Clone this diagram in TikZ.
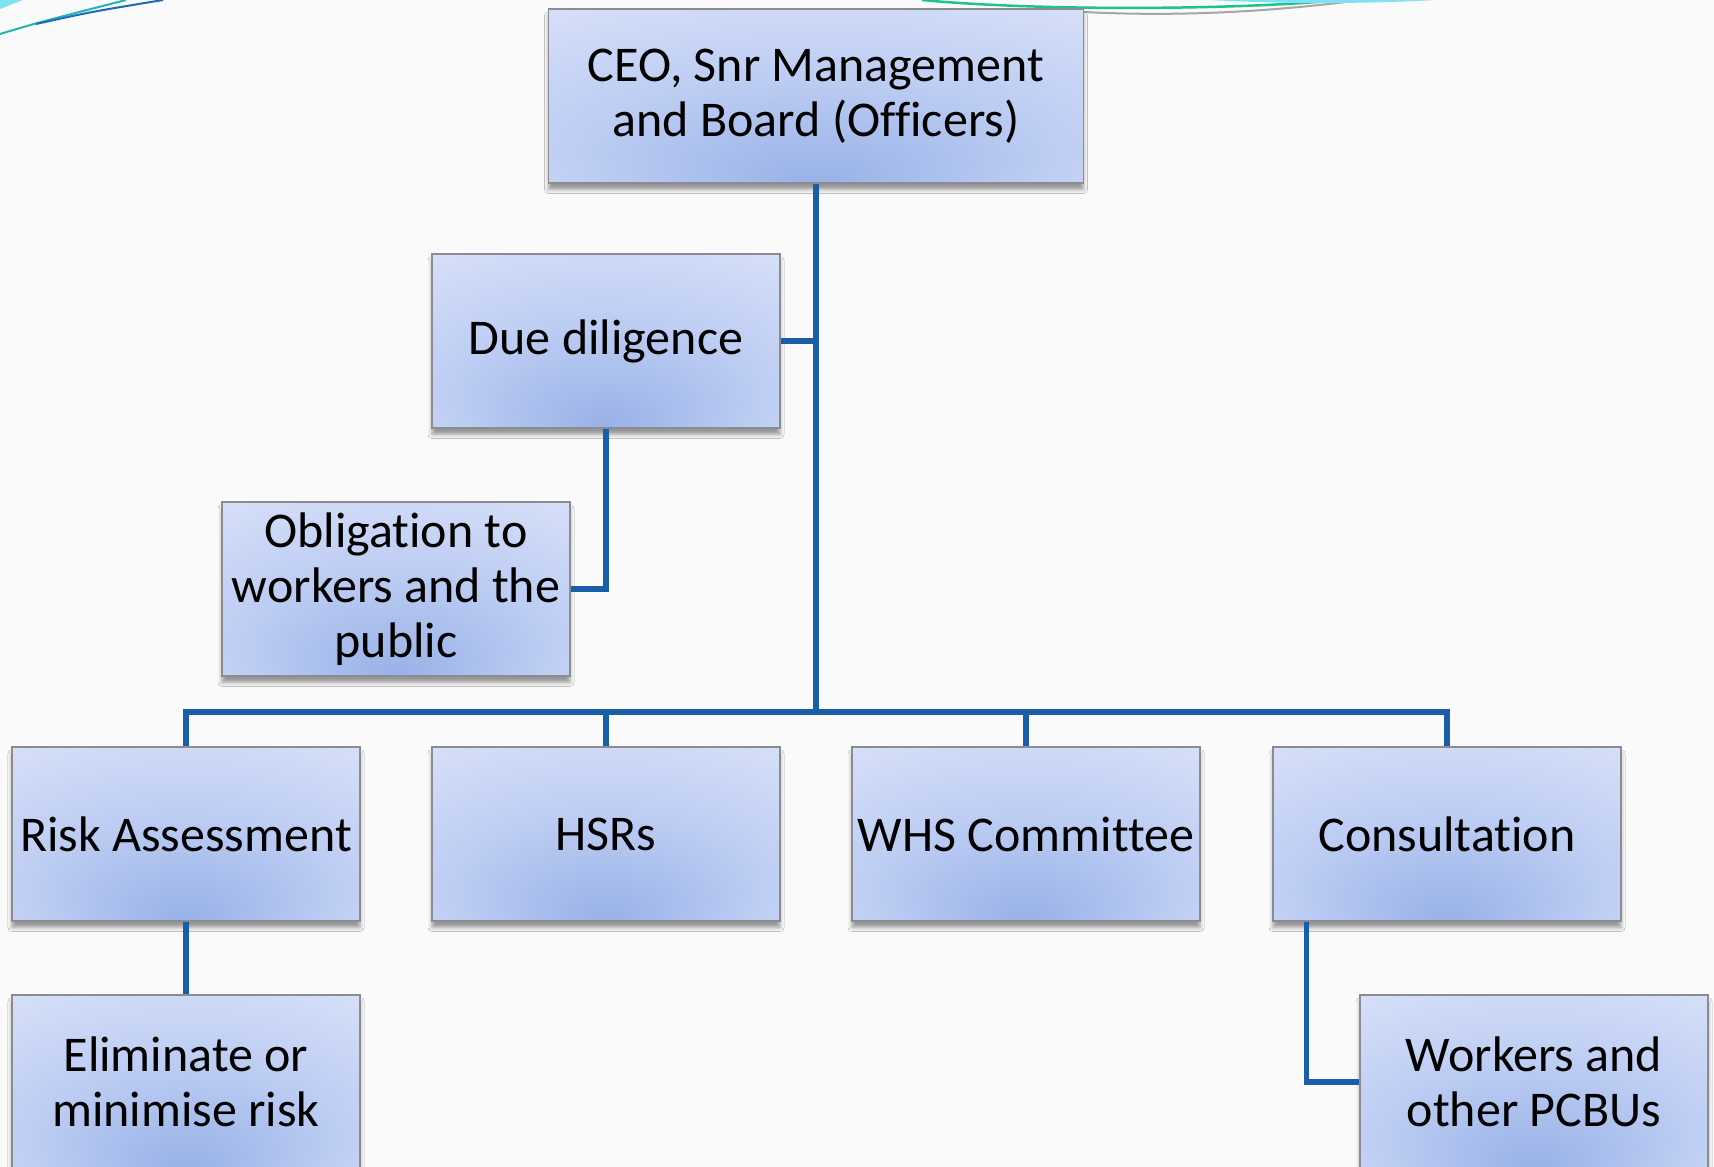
\documentclass[tikz,border=0pt]{standalone}
\usepackage{fontspec}
\setmainfont{Carlito}[Ligatures={NoCommon}]
\usetikzlibrary{shadows.blur}

\definecolor{linkblue}{RGB}{26,94,170}
\definecolor{boxedge}{RGB}{138,140,145}
\definecolor{pagegray}{RGB}{250,250,250}
\definecolor{glowdark}{RGB}{152,177,231}
\definecolor{glowmid}{RGB}{186,203,242}
\definecolor{glowlight}{RGB}{210,220,247}
\definecolor{glowpale}{RGB}{234,239,251}
\definecolor{swoosh}{RGB}{32,184,170}
\definecolor{swooshgreen}{RGB}{30,196,140}
\definecolor{swooshblue}{RGB}{30,104,190}
\definecolor{swooshcyan}{RGB}{128,226,240}

\pgfdeclareradialshading{boxglow}{\pgfpoint{0bp}{-25bp}}{%
  color(0bp)=(glowdark); color(20bp)=(glowmid); color(38bp)=(glowlight);
  color(58bp)=(glowpale); color(62bp)=(glowpale)}

\begin{document}
\begin{tikzpicture}[x=0.4pt,y=-0.4pt,
    dutybox/.style={draw=boxedge, line width=0.6pt, shading=boxglow,
        minimum width=139.2pt, minimum height=69.6pt, inner sep=0pt,
        align=center, font=\fontsize{20pt}{22pt}\selectfont,
        blur shadow={shadow xshift=0pt, shadow yshift=-2.6pt,
            shadow blur radius=1.6pt, shadow opacity=40}},
    link/.style={draw=linkblue, line width=2.2pt}]
    \useasboundingbox (0,0) rectangle (1714,1167);
    \fill[pagegray] (0,0) rectangle (1714,1167); %Page
    % template swooshes
    \fill[swooshcyan] (0,0) -- (23,0) -- (0,9) -- cycle;
    \draw[swoosh, line width=0.8pt] (0,34) .. controls (40,22) .. (126,0);
    \draw[swooshblue, line width=0.8pt] (36,24) .. controls (90,12) .. (163,0);
    \draw[swooshgreen, line width=1pt] (922,0) .. controls (1050,12) and (1250,9) .. (1340,0);
    \draw[gray!70, line width=0.8pt] (1084,12) .. controls (1200,18) and (1300,8) .. (1362,0);
    \fill[swooshcyan] (1210,0) .. controls (1300,5) and (1380,3) .. (1436,0) -- cycle;

    \node[dutybox, minimum width=214pt] (ceo) at (816,96) {CEO, Snr Management\\and Board (Officers)};
    \node[dutybox] (due) at (606,341) {Due diligence};
    \node[dutybox] (oblig) at (396,589) {Obligation to\\workers and the\\public};
    \node[dutybox] (risk) at (186,834) {Risk Assessment};
    \node[dutybox] (hsr) at (606,834) {HSRs};
    \node[dutybox] (whs) at (1026,834) {WHS Committee};
    \node[dutybox] (consult) at (1447,834) {Consultation};
    \node[dutybox] (elim) at (186,1082) {Eliminate or\\minimise risk};
    \node[dutybox] (pcbu) at (1534,1082) {Workers and\\other PCBUs};

    \coordinate (busjoin) at (816,712); %Join of trunk and bus
    \draw[link] (ceo.south) -- (busjoin); %Trunk
    \draw[link] (due.east) -- (due.east -| ceo.south); %Due diligence to trunk
    \draw[link] (due.south) |- (oblig.east); %Due diligence to obligation
    \draw[link] (risk.north) |- (busjoin) -| (consult.north); %Bus
    \draw[link] (hsr.north) -- (hsr.north |- busjoin);
    \draw[link] (whs.north) -- (whs.north |- busjoin);
    \draw[link] (risk.south) -- (elim.north); %Risk to eliminate
    \draw[link] ([xshift=13.6pt]consult.south west) |- (pcbu.west); %Consultation to workers
\end{tikzpicture}
\end{document}
